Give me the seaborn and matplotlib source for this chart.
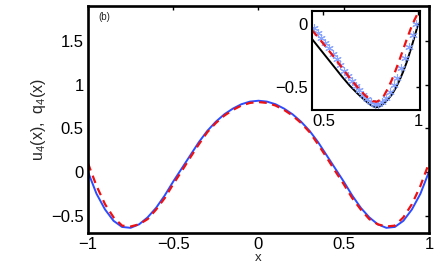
import numpy as np
import seaborn as sns
from matplotlib import pyplot as plt

# main panel, x from -1 to 1 in steps of 0.05
x_main = np.round(np.arange(-1, 1.0001, 0.05), 2)
u4_half = [0.815, 0.805, 0.775, 0.725, 0.66, 0.575, 0.47, 0.34, 0.19, 0.04,
           -0.11, -0.27, -0.41, -0.52, -0.60, -0.64, -0.63, -0.56, -0.43, -0.25, 0.0]
q4_half = [0.80, 0.79, 0.76, 0.71, 0.645, 0.56, 0.455, 0.315, 0.165, 0.01,
           -0.14, -0.30, -0.43, -0.54, -0.60, -0.625, -0.615, -0.52, -0.37, -0.16, 0.10]
u4 = u4_half[::-1] + u4_half[1:]
q4 = q4_half[::-1] + q4_half[1:]

# inset, zoom on 0.44..1
x_ins = [0.44, 0.48, 0.52, 0.56, 0.60, 0.64, 0.68, 0.72, 0.74, 0.76, 0.78, 0.80,
         0.82, 0.84, 0.86, 0.88, 0.90, 0.92, 0.94, 0.96, 0.98, 1.0]
exact_ins = [-0.12, -0.195, -0.27, -0.345, -0.42, -0.49, -0.55, -0.605, -0.63, -0.65,
             -0.658, -0.65, -0.625, -0.595, -0.56, -0.51, -0.45, -0.38, -0.30, -0.205,
             -0.105, 0.0]
q4_ins = [-0.05, -0.12, -0.195, -0.27, -0.35, -0.43, -0.50, -0.565, -0.59, -0.61,
          -0.615, -0.60, -0.565, -0.51, -0.445, -0.37, -0.29, -0.205, -0.12, -0.04,
          0.03, 0.09]
x_star = [0.45, 0.47, 0.49, 0.51, 0.53, 0.55, 0.57, 0.59, 0.61, 0.63, 0.65, 0.67, 0.69,
          0.71, 0.73, 0.75, 0.77, 0.79, 0.81, 0.83, 0.85, 0.87, 0.89, 0.91, 0.93, 0.95,
          0.97, 0.99]
u4_star = [-0.03, -0.07, -0.11, -0.15, -0.19, -0.235, -0.28, -0.325, -0.37, -0.41, -0.45,
           -0.49, -0.525, -0.56, -0.59, -0.615, -0.63, -0.63, -0.615, -0.585, -0.54, -0.485,
           -0.425, -0.35, -0.27, -0.18, -0.09, 0.0]

sns.set_theme(style="white")
plt.rcParams['font.family'] = ['Liberation Sans', 'DejaVu Sans']
plt.rcParams['mathtext.default'] = 'regular'

fig = plt.figure(figsize=(4.36, 2.71), dpi=100)
ax = fig.add_axes([0.2018, 0.140, 0.782, 0.838])

sns.lineplot(x=x_main, y=u4, ax=ax, color='#2b4cff', linewidth=1.4)
sns.lineplot(x=x_main, y=q4, ax=ax, color='#ee1111', linewidth=1.6, linestyle=(0, (3.5, 2.5)))

ax.set_xlim(-1, 1)
ax.set_ylim(-0.7, 1.9)
ax.set_xticks([-1, -0.5, 0, 0.5, 1])
ax.set_xticklabels(['\u22121', '\u22120.5', '0', '0.5', '1'])
ax.set_yticks([-0.5, 0, 0.5, 1, 1.5])
ax.set_yticklabels(['\u22120.5', '0', '0.5', '1', '1.5'])
ax.tick_params(direction='in', length=3, width=1, top=True, right=True,
               labelsize=12, pad=3, colors='black')
ax.set_xlabel('x', fontsize=9.5, labelpad=0)
ax.set_ylabel('u$_4$(x),  q$_4$(x)', fontsize=11.5, labelpad=2)
ax.text(0.03, 0.975, '(b)', transform=ax.transAxes, fontsize=7, va='top')
for s in ax.spines.values():
    s.set_linewidth(1.9)
    s.set_color('black')

ins = fig.add_axes([0.7156, 0.594, 0.248, 0.365])
sns.lineplot(x=x_ins, y=exact_ins, ax=ins, color='black', linewidth=1.4)
sns.lineplot(x=x_star, y=u4_star, ax=ins, color='#7f9dff', linewidth=0,
             marker=(6, 2, 0), markersize=6, markeredgewidth=0.8,
             markeredgecolor='#7f9dff', alpha=0.9)
sns.lineplot(x=x_ins, y=q4_ins, ax=ins, color='#ee1111', linewidth=1.6,
             linestyle=(0, (3.5, 2.5)))
ins.set_xlim(0.44, 1.01)
ins.set_ylim(-0.68, 0.1)
ins.set_xticks([0.5, 1])
ins.set_xticklabels(['0.5', '1'])
ins.set_yticks([-0.5, 0])
ins.set_yticklabels(['\u22120.5', '0'])
ins.tick_params(direction='in', length=3, width=1, top=True, right=True,
                labelsize=12, pad=3, colors='black')
ins.set_xlabel('')
ins.set_ylabel('')
for s in ins.spines.values():
    s.set_linewidth(1.5)
    s.set_color('black')

fig.savefig('out.png', dpi=100)
